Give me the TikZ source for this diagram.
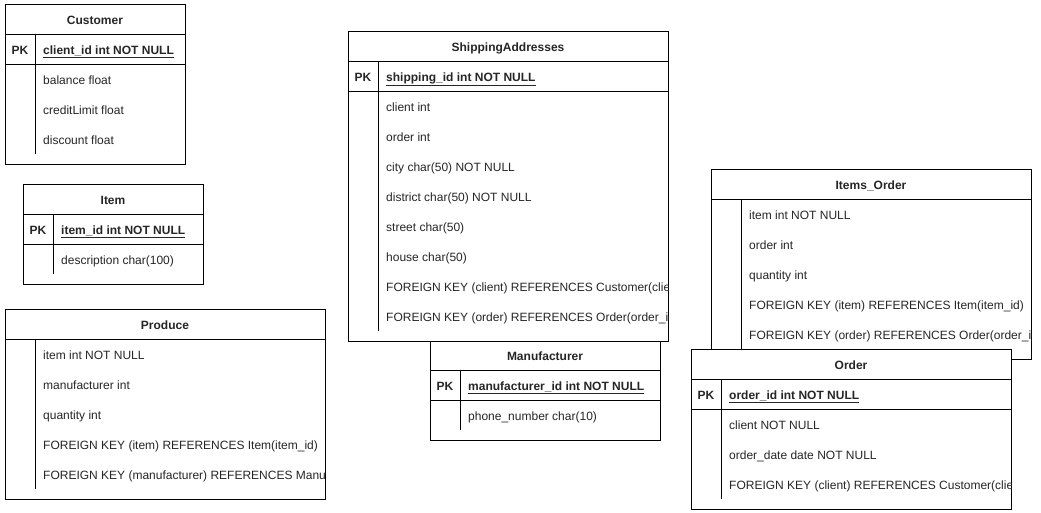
\documentclass[tikz,border=0pt]{standalone}
\usepackage{fontspec}
\setmainfont{Liberation Sans}
\usetikzlibrary{positioning}

\begin{document}
\begin{tikzpicture}[
    x=1pt, y=-1pt,
    font=\fontsize{12}{14}\selectfont,
    tbl/.style={draw, fill=white, anchor=north west, inner sep=0pt, line width=1pt},
    rule/.style={line width=1pt},
    tblname/.style={anchor=base, inner sep=0pt, text=black!85, font=\fontsize{12}{14}\selectfont\bfseries},
    pkmark/.style={anchor=base, inner sep=0pt, text=black!85, font=\fontsize{12}{14}\selectfont\bfseries},
    keyfield/.style={anchor=base west, inner sep=0pt, text=black!85, font=\fontsize{12}{14}\selectfont\bfseries},
    field/.style={anchor=base west, inner sep=0pt, text=black!85}
  ]
    \useasboundingbox (0,0) rectangle (1041,512);

    % Customer
    \begin{scope}[shift={(5,4)}]
      \node[tbl, minimum width=180, minimum height=160] (customer) at (0,0) {};
      \clip (0,0) rectangle (180,160);
      \node[tblname] (customer-name) at (90,20) {Customer};
      \draw[rule] (0,30) -- (180,30) (0,60) -- (180,60) (30,30) -- (30,150);
      \node[pkmark] (customer-pk) at (15,50) {PK};
      \node[keyfield] (customer-key) at (38,50) {\underline{client\_id int NOT NULL}};
      \foreach \f [count=\i] in {balance float, creditLimit float, discount float}
        \node[field] (customer-f\i) at (38,50+30*\i) {\f};
    \end{scope}

    % Item
    \begin{scope}[shift={(23,184)}]
      \node[tbl, minimum width=180, minimum height=100] (item) at (0,0) {};
      \clip (0,0) rectangle (180,100);
      \node[tblname] (item-name) at (90,20) {Item};
      \draw[rule] (0,30) -- (180,30) (0,60) -- (180,60) (30,30) -- (30,90);
      \node[pkmark] (item-pk) at (15,50) {PK};
      \node[keyfield] (item-key) at (38,50) {\underline{item\_id int NOT NULL}};
      \node[field] (item-f1) at (38,80) {description char(100)};
    \end{scope}

    % Produce
    \begin{scope}[shift={(5,309)}]
      \node[tbl, minimum width=320, minimum height=190] (produce) at (0,0) {};
      \clip (0,0) rectangle (320,190);
      \node[tblname] (produce-name) at (160,20) {Produce};
      \draw[rule] (0,30) -- (320,30) (30,30) -- (30,180);
      \foreach \f [count=\i] in {item int NOT NULL, manufacturer int, quantity int,
          FOREIGN KEY (item) REFERENCES Item(item\_id),
          FOREIGN KEY (manufacturer) REFERENCES Manufacturer(manufacturer\_id)}
        \node[field] (produce-f\i) at (38,20+30*\i) {\f};
    \end{scope}

    % Manufacturer
    \begin{scope}[shift={(430,340)}]
      \node[tbl, minimum width=230, minimum height=100] (manufacturer) at (0,0) {};
      \clip (0,0) rectangle (230,100);
      \node[tblname] (manufacturer-name) at (115,20) {Manufacturer};
      \draw[rule] (0,30) -- (230,30) (0,60) -- (230,60) (30,30) -- (30,90);
      \node[pkmark] (manufacturer-pk) at (15,50) {PK};
      \node[keyfield] (manufacturer-key) at (38,50) {\underline{manufacturer\_id int NOT NULL}};
      \node[field] (manufacturer-f1) at (38,80) {phone\_number char(10)};
    \end{scope}

    % ShippingAddresses
    \begin{scope}[shift={(348,31)}]
      \node[tbl, minimum width=320, minimum height=310] (shipping) at (0,0) {};
      \clip (0,0) rectangle (320,310);
      \node[tblname] (shipping-name) at (160,20) {ShippingAddresses};
      \draw[rule] (0,30) -- (320,30) (0,60) -- (320,60) (30,30) -- (30,300);
      \node[pkmark] (shipping-pk) at (15,50) {PK};
      \node[keyfield] (shipping-key) at (38,50) {\underline{shipping\_id int NOT NULL}};
      \foreach \f [count=\i] in {client int, order int, city char(50) NOT NULL,
          district char(50) NOT NULL, street char(50), house char(50),
          FOREIGN KEY (client) REFERENCES Customer(client\_id),
          FOREIGN KEY (order) REFERENCES Order(order\_id)}
        \node[field] (shipping-f\i) at (38,50+30*\i) {\f};
    \end{scope}

    % Items_Order
    \begin{scope}[shift={(711,169)}]
      \node[tbl, minimum width=320, minimum height=190] (itemsorder) at (0,0) {};
      \clip (0,0) rectangle (320,190);
      \node[tblname] (itemsorder-name) at (160,20) {Items\_Order};
      \draw[rule] (0,30) -- (320,30) (30,30) -- (30,180);
      \foreach \f [count=\i] in {item int NOT NULL, order int, quantity int,
          FOREIGN KEY (item) REFERENCES Item(item\_id),
          FOREIGN KEY (order) REFERENCES Order(order\_id)}
        \node[field] (itemsorder-f\i) at (38,20+30*\i) {\f};
    \end{scope}

    % Order
    \begin{scope}[shift={(691,349)}]
      \node[tbl, minimum width=320, minimum height=160] (order) at (0,0) {};
      \clip (0,0) rectangle (320,160);
      \node[tblname] (order-name) at (160,20) {Order};
      \draw[rule] (0,30) -- (320,30) (0,60) -- (320,60) (30,30) -- (30,150);
      \node[pkmark] (order-pk) at (15,50) {PK};
      \node[keyfield] (order-key) at (38,50) {\underline{order\_id int NOT NULL}};
      \foreach \f [count=\i] in {client NOT NULL, order\_date date NOT NULL,
          FOREIGN KEY (client) REFERENCES Customer(client\_id)}
        \node[field] (order-f\i) at (38,50+30*\i) {\f};
    \end{scope}
\end{tikzpicture}
\end{document}
